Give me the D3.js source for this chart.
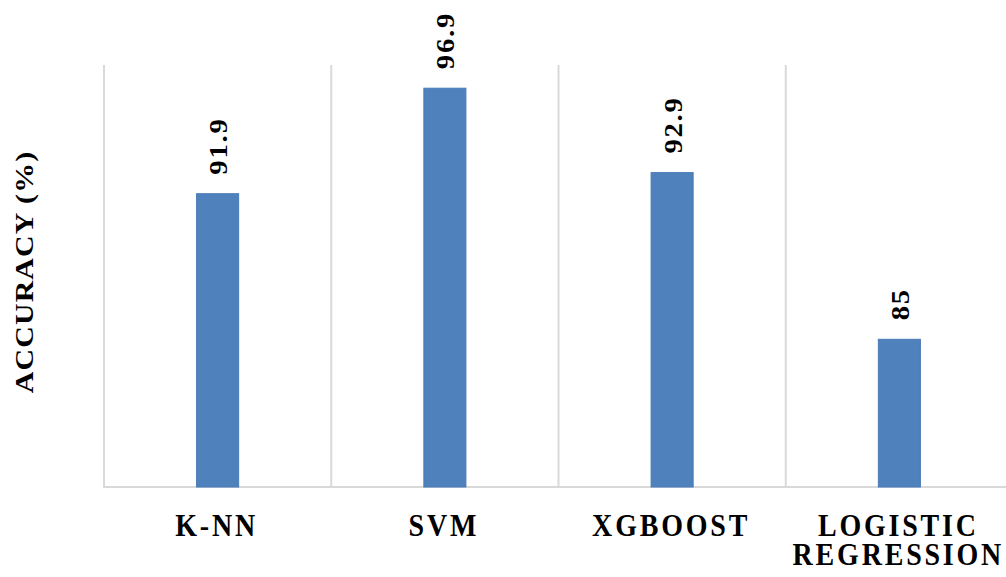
<!DOCTYPE html>
<html>
<head>
<meta charset="utf-8">
<script src="https://cdn.jsdelivr.net/npm/d3@7"></script>
<style>
  html, body { margin: 0; padding: 0; background: #fff; }
  svg { display: block; }
  text { font-family: "Liberation Serif", "Times New Roman", serif; font-weight: bold; fill: #000; }
</style>
</head>
<body>
<svg id="chart" width="1006" height="577"></svg>
<script>
// Model accuracy (%) per classifier
const categories = ["K-NN", "SVM", "XGBOOST", "LOGISTIC REGRESSION"];
const categoryLines = [["K-NN"], ["SVM"], ["XGBOOST"], ["LOGISTIC", "REGRESSION"]];
const accuracy = [91.9, 96.9, 92.9, 85];
const valueLabels = ["91.9", "96.9", "92.9", "85"];
const yDomain = [78, 98];
const yTitle = "ACCURACY (%)";

const svg = d3.select("#chart");
const plot = { left: 104, right: 1013, top: 65, bottom: 487 };
const stretch = 1.15; // vertical text stretch

const x = d3.scaleBand()
  .domain(categories)
  .range([plot.left, plot.right])
  .paddingInner(0.815)
  .paddingOuter(0.815 / 2);

const y = d3.scaleLinear().domain(yDomain).range([plot.bottom, plot.top]);

// Vertical category separators
const step = x.step();
const bounds = categories.map(c => x(c) + x.bandwidth() / 2 - step / 2);
bounds.push(bounds[bounds.length - 1] + step);
svg.append("g").selectAll("line").data(bounds).join("line")
  .attr("x1", d => d).attr("x2", d => d)
  .attr("y1", plot.top).attr("y2", plot.bottom)
  .attr("stroke", "#d9d9d9").attr("stroke-width", 2);

// Baseline
svg.append("line")
  .attr("x1", plot.left - 1).attr("x2", plot.right)
  .attr("y1", plot.bottom).attr("y2", plot.bottom)
  .attr("stroke", "#d9d9d9").attr("stroke-width", 2);

// Bars
svg.append("g").selectAll("rect").data(accuracy).join("rect")
  .attr("x", (d, i) => x(categories[i]))
  .attr("width", x.bandwidth())
  .attr("y", d => y(d))
  .attr("height", d => y(yDomain[0]) - y(d))
  .attr("fill", "#4f81bd")
  .attr("stroke", "#4a7ab5")
  .attr("stroke-width", 1);

// Value labels (rotated)
svg.append("g").selectAll("text").data(accuracy).join("text")
  .attr("transform", (d, i) =>
    `translate(${x(categories[i]) + x.bandwidth() / 2 + 1},${y(d) - 19}) rotate(-90) scale(${stretch},1)`)
  .attr("text-anchor", "start")
  .attr("dy", "0.34em")
  .style("font-size", "25px")
  .style("letter-spacing", "1.5px")
  .text((d, i) => valueLabels[i]);

// Category labels
const cat = svg.append("g").selectAll("text").data(categoryLines).join("text")
  .attr("transform", (d, i) =>
    `translate(${x(categories[i]) + x.bandwidth() / 2 - 1},536) scale(1,${stretch})`)
  .attr("text-anchor", "middle")
  .style("font-size", "28px")
  .style("letter-spacing", "2.8px");
cat.selectAll("tspan").data(d => d).join("tspan")
  .attr("x", 0)
  .attr("dy", (d, j) => j === 0 ? 0 : 29 / stretch)
  .text(d => d);

// Y axis title
svg.append("text")
  .attr("transform", `translate(24,${(plot.top + plot.bottom) / 2 - 4}) rotate(-90) scale(${stretch},1)`)
  .attr("text-anchor", "middle")
  .attr("dy", "0.35em")
  .style("font-size", "26px")
  .style("letter-spacing", "1px")
  .text(yTitle);
</script>
</body>
</html>
